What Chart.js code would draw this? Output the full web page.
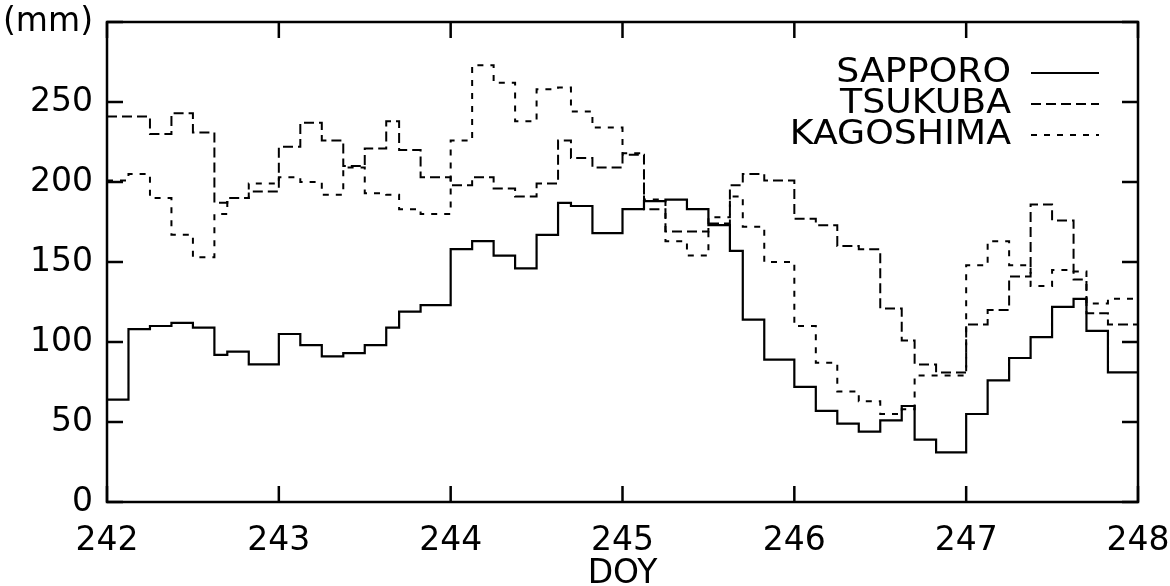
<!DOCTYPE html>
<html>
<head>
<meta charset="utf-8">
<script src="https://cdn.jsdelivr.net/npm/chart.js@4.4.1/dist/chart.umd.min.js"></script>
<style>
html, body { margin: 0; padding: 0; background: #fff; }
#wrap { width: 1170px; height: 586px; position: relative; }
</style>
</head>
<body>
<div id="wrap"><canvas id="pwvChart"></canvas></div>
<script>
// observation times (DOY), one value per interval until the next time
const doy = [
  242.000, 242.125, 242.250, 242.375, 242.500, 242.625, 242.700, 242.825,
  243.000, 243.125, 243.250, 243.375, 243.500, 243.625, 243.700, 243.825,
  244.000, 244.125, 244.250, 244.375, 244.500, 244.625, 244.700, 244.825,
  245.000, 245.125, 245.250, 245.375, 245.500, 245.625, 245.700, 245.825,
  246.000, 246.125, 246.250, 246.375, 246.500, 246.625, 246.700, 246.825,
  247.000, 247.125, 247.250, 247.375, 247.500, 247.625, 247.700, 247.825
];
const doyEnd = 248;

// values in mm
const sapporo = [
  64, 108, 110, 112, 109, 92, 94, 86,
  105, 98, 91, 93, 98, 109, 119, 123,
  158, 163, 154, 146, 167, 187, 185, 168,
  183, 188, 189, 183, 173, 157, 114, 89,
  72, 57, 49, 44, 51, 60, 39, 31,
  55, 76, 90, 103, 122, 127, 107, 81
];
const tsukuba = [
  241, 241, 230, 243, 231, 187, 190, 194,
  222, 237, 226, 210, 221, 238, 220, 203,
  198, 203, 196, 191, 199, 226, 215, 209,
  217, 183, 169, 169, 174, 198, 205, 201,
  177, 173, 160, 158, 121, 101, 86, 81,
  111, 120, 141, 186, 176, 139, 118, 111
];
const kagoshima = [
  201, 205, 190, 167, 153, 180, 190, 199,
  203, 200, 192, 209, 193, 192, 183, 180,
  226, 273, 262, 238, 258, 259, 244, 234,
  218, 189, 163, 154, 178, 191, 172, 150,
  110, 87, 69, 63, 55, 58, 79, 79,
  148, 163, 148, 135, 145, 144, 124, 127
];

const stationNames = ['SAPPORO', 'TSUKUBA', 'KAGOSHIMA'];

Chart.defaults.font.family = '"DejaVu Sans", sans-serif';
Chart.defaults.color = '#000';

function toSteps(values) {
  const pts = values.map((v, i) => ({ x: doy[i], y: v }));
  pts.push({ x: doyEnd, y: values[values.length - 1] });
  return pts;
}

// gnuplot style frame, inward ticks and key
const framePlugin = {
  id: 'frame',
  afterDatasetsDraw(chart) {
    const { ctx, chartArea: a, scales } = chart;
    const xs = scales.x, ys = scales.y;
    const len = 16;
    ctx.save();
    ctx.strokeStyle = '#000';
    ctx.setLineDash([]);
    ctx.lineWidth = 2.5;
    ctx.strokeRect(a.left, a.top, a.right - a.left, a.bottom - a.top);
    ctx.beginPath();
    xs.ticks.forEach(t => {
      const px = xs.getPixelForValue(t.value);
      ctx.moveTo(px, a.bottom); ctx.lineTo(px, a.bottom - len);
      ctx.moveTo(px, a.top); ctx.lineTo(px, a.top + len);
    });
    ys.ticks.forEach(t => {
      const py = ys.getPixelForValue(t.value);
      ctx.moveTo(a.left, py); ctx.lineTo(a.left + len, py);
      ctx.moveTo(a.right, py); ctx.lineTo(a.right - len, py);
    });
    ctx.stroke();

    // key, text right aligned with a line sample after it
    const textRight = 1011, sampleFrom = 1031, sampleTo = 1099;
    chart.data.datasets.forEach((ds, i) => {
      const yy = 73 + i * 31;
      ctx.save();
      ctx.translate(textRight, yy);
      ctx.scale(1.1, 1);
      ctx.font = '33px "DejaVu Sans"';
      ctx.fillStyle = '#000';
      ctx.textAlign = 'right';
      ctx.textBaseline = 'middle';
      ctx.fillText(ds.label, 0, 0);
      ctx.restore();
      ctx.lineWidth = ds.borderWidth;
      ctx.setLineDash(ds.borderDash || []);
      ctx.beginPath();
      ctx.moveTo(sampleFrom, yy);
      ctx.lineTo(sampleTo, yy);
      ctx.stroke();
    });
    ctx.restore();
  }
};

const ctx = document.getElementById('pwvChart').getContext('2d');
const chart = new Chart(ctx, {
  type: 'line',
  data: {
    datasets: [
      {
        label: stationNames[0],
        data: toSteps(sapporo),
        borderColor: '#000',
        borderWidth: 2.2,
        borderDash: []
      },
      {
        label: stationNames[1],
        data: toSteps(tsukuba),
        borderColor: '#000',
        borderWidth: 2,
        borderDash: [10, 5]
      },
      {
        label: stationNames[2],
        data: toSteps(kagoshima),
        borderColor: '#000',
        borderWidth: 2,
        borderDash: [6, 7]
      }
    ]
  },
  options: {
    responsive: true,
    maintainAspectRatio: false,
    devicePixelRatio: 1,
    animation: false,
    elements: {
      point: { radius: 0 },
      line: { stepped: true, tension: 0, fill: false, borderCapStyle: 'butt' }
    },
    layout: { padding: { left: 0, right: 32, top: 22, bottom: 0 } },
    plugins: {
      legend: { display: false },
      tooltip: { enabled: false }
    },
    scales: {
      x: {
        type: 'linear',
        min: 242,
        max: 248,
        grid: { display: false, drawTicks: false },
        border: { display: false },
        ticks: {
          stepSize: 1,
          padding: 20,
          maxRotation: 0,
          font: { size: 33 }
        },
        title: {
          display: true,
          text: 'DOY',
          font: { size: 33, lineHeight: 0.7 },
          padding: 0
        },
        afterFit(scale) {
          scale.height = 84;
          scale.paddingLeft = 0;
          scale.paddingRight = 0;
        }
      },
      y: {
        min: 0,
        max: 300,
        grid: { display: false, drawTicks: false },
        border: { display: false },
        ticks: {
          stepSize: 50,
          padding: 14,
          font: { size: 33 },
          callback: v => (v === 300 ? '(mm)' : v)
        },
        afterFit(scale) {
          scale.width = 107;
          scale.paddingTop = 0;
          scale.paddingBottom = 0;
        }
      }
    }
  },
  plugins: [framePlugin]
});
</script>
</body>
</html>
